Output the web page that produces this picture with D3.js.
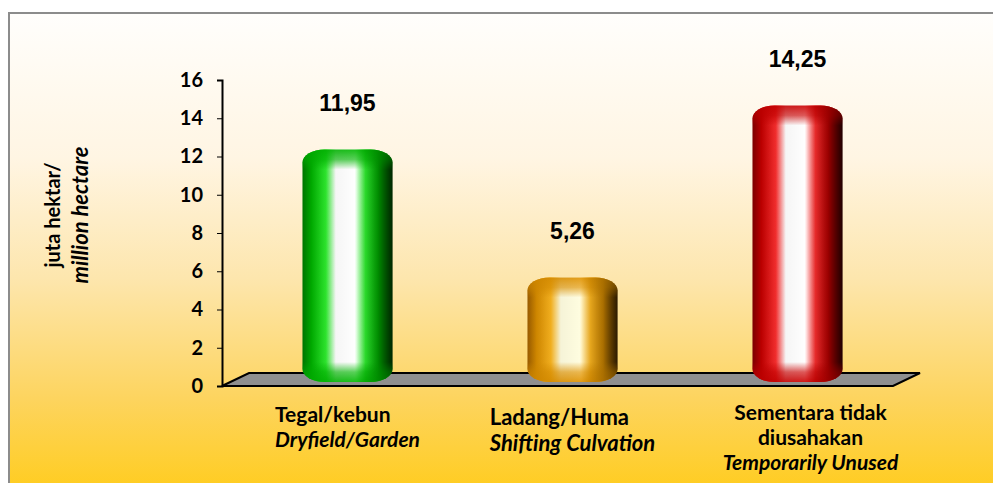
<!DOCTYPE html>
<html lang="id">
  <head>
    <meta charset="UTF-8" />
    <title>Lahan kering</title>
    <style>
      body {
        margin: 0;
        background: #ffffff;
      }
      svg {
        display: block;
      }
      .tick text {
        font-family: Lato, "DejaVu Sans", sans-serif;
        font-weight: bold;
        font-size: 20px;
        fill: #000;
      }
    </style>
  </head>
  <body>
    <script src="https://cdn.jsdelivr.net/npm/d3@7"></script>
    <svg id="chart" width="993" height="483"></svg>
    <script>
      // data
      var categories = ["Tegal/kebun", "Ladang/Huma", "Sementara tidak diusahakan"];
      var categoryLines = [
        ["Tegal/kebun", "Dryfield/Garden"],
        ["Ladang/Huma", "Shifting Culvation"],
        ["Sementara tidak", "diusahakan", "Temporarily Unused"]
      ];
      var values = [11.95, 5.26, 14.25];
      var yTicks = [0, 2, 4, 6, 8, 10, 12, 14, 16];
      var yTitle = ["juta hektar/", "million hectare"];

      // bar colours: dark left, mid, bright, highlight, dark right
      var palette = [
        ["#008000", "#00b800", "#30f030", "#ffffff", "#004000"],
        ["#a86400", "#e09200", "#ffb820", "#fffde0", "#4a2c00"],
        ["#8a0000", "#cc0000", "#ff3030", "#ffffff", "#380000"]
      ];
      // label block settings (alignment inside block, x shift, first baseline)
      var labelAlign = ["start", "start", "middle"];
      var labelShift = [0, 0, 13];
      var labelTop = [422, 425, 420];
      var labelSize = [21, 22, 21];

      var svg = d3.select("#chart"),
        width = +svg.attr("width"),
        height = +svg.attr("height");

      var defs = svg.append("defs");

      // background gradient
      var bg = defs.append("linearGradient")
        .attr("id", "bg")
        .attr("x1", 0).attr("y1", 0).attr("x2", 0).attr("y2", 1);
      [[0, "#fffefc"], [0.3, "#fff5e3"], [0.55, "#fde6ad"], [0.8, "#fdd45e"], [1, "#ffcc1c"]]
        .forEach(function (s) {
          bg.append("stop").attr("offset", s[0]).attr("stop-color", s[1]);
        });

      // frame
      svg.append("rect")
        .attr("x", 9).attr("y", 13)
        .attr("width", width).attr("height", height)
        .attr("fill", "url(#bg)")
        .attr("stroke", "#8c8c8c")
        .attr("stroke-width", 2);

      // scales
      var y = d3.scaleLinear().domain([0, 16]).range([386, 80]);
      var x = d3.scaleBand()
        .domain(categories)
        .range([235, 910])
        .paddingInner(0.6)
        .paddingOuter(0.3);

      var depthX = 27, depthY = 13;

      // floor
      var x0 = 222, x1 = 893;
      svg.append("path")
        .attr("d", "M" + x0 + "," + y(0) +
          "L" + (x0 + depthX) + "," + (y(0) - depthY) +
          "L" + (x1 + depthX) + "," + (y(0) - depthY) +
          "L" + x1 + "," + y(0) + "Z")
        .attr("fill", "#8f8f8f")
        .attr("stroke", "#000")
        .attr("stroke-width", 2)
        .attr("stroke-linejoin", "miter");

      // axis
      var axis = svg.append("g")
        .attr("transform", "translate(" + x0 + ",0)")
        .call(d3.axisLeft(y).tickValues(yTicks).tickSize(5).tickPadding(14));
      axis.select(".domain").attr("stroke", "#000").attr("stroke-width", 2);
      axis.selectAll(".tick line").attr("stroke", "#000").attr("stroke-width", 1);

      // y title
      var yt = svg.append("text")
        .attr("transform", "translate(53,215) rotate(-90)")
        .attr("text-anchor", "middle")
        .style("font-family", "Lato, sans-serif")
        .style("font-weight", "bold")
        .style("font-size", "20px");
      yt.append("tspan").attr("x", 0).attr("dy", "0.35em").text(yTitle[0]);
      yt.append("tspan").attr("x", 0).attr("dy", "1.25em")
        .style("font-style", "italic").style("font-size", "22px").text(yTitle[1]);

      // cylinder gradients (across)
      palette.forEach(function (c, i) {
        var g = defs.append("linearGradient")
          .attr("id", "cyl" + i)
          .attr("x1", 0).attr("y1", 0).attr("x2", 1).attr("y2", 0);
        [[0, c[0]], [0.1, c[1]], [0.26, c[2]], [0.37, c[3]], [0.58, c[3]],
         [0.7, c[2]], [0.84, c[1]], [1, c[4]]]
          .forEach(function (s) {
            g.append("stop").attr("offset", s[0]).attr("stop-color", s[1]);
          });
      });

      var barTop = function (d) { return y(d) - 8; };
      var barBottom = y(0) - 4;

      // cap shading (along), one per bar so the caps keep a fixed size
      values.forEach(function (d, i) {
        var h = barBottom - barTop(d);
        var cap = 20 / h;
        var g = defs.append("linearGradient")
          .attr("id", "shade" + i)
          .attr("x1", 0).attr("y1", 0).attr("x2", 0).attr("y2", 1);
        [[0, 0.9], [cap * 0.5, 0.65], [cap, 0], [1 - cap, 0], [1 - cap * 0.5, 0.65], [1, 0.9]]
          .forEach(function (s) {
            g.append("stop").attr("offset", s[0]).attr("stop-color", palette[i][1]).attr("stop-opacity", s[1]);
          });
      });
      var edge = defs.append("linearGradient")
        .attr("id", "edge")
        .attr("x1", 0).attr("y1", 0).attr("x2", 1).attr("y2", 0);
      [[0, 0.1], [0.6, 0], [1, 0.4]].forEach(function (s) {
        edge.append("stop").attr("offset", s[0]).attr("stop-color", "#000").attr("stop-opacity", s[1]);
      });

      var fmt = d3.formatLocale({ decimal: ",", thousands: ".", grouping: [3], currency: ["", ""] }).format(".2f");

      var bars = svg.append("g").selectAll("g")
        .data(values)
        .enter()
        .append("g");

      ["cyl", "shade", "edge"].forEach(function (id) {
        bars.append("rect")
          .attr("x", function (d, i) { return x(categories[i]); })
          .attr("y", barTop)
          .attr("width", x.bandwidth())
          .attr("height", function (d) { return barBottom - barTop(d); })
          .attr("rx", 22).attr("ry", 13)
          .attr("fill", function (d, i) { return "url(#" + id + (id === "edge" ? "" : i) + ")"; });
      });

      // value labels
      svg.append("g").selectAll("text")
        .data(values)
        .enter()
        .append("text")
        .attr("x", function (d, i) { return x(categories[i]) + x.bandwidth() / 2; })
        .attr("y", function (d) { return y(d) - 46; })
        .attr("text-anchor", "middle")
        .style("font-family", "'Liberation Sans', Arial, sans-serif")
        .style("font-weight", "bold")
        .style("font-size", "23px")
        .text(function (d) { return fmt(d); });

      // category labels
      var cat = svg.append("g").selectAll("text")
        .data(categoryLines)
        .enter()
        .append("text")
        .attr("text-anchor", function (d, i) { return labelAlign[i]; })
        .style("font-family", "Lato, sans-serif")
        .style("font-weight", "bold")
        .style("font-size", function (d, i) { return labelSize[i] + "px"; });
      cat.each(function (lines, i) {
        var t = d3.select(this);
        lines.forEach(function (l, j) {
          t.append("tspan")
            .attr("x", 0)
            .attr("dy", j === 0 ? 0 : "1.2em")
            .style("font-style", j === lines.length - 1 ? "italic" : "normal")
            .text(l);
        });
        var cx = x(categories[i]) + x.bandwidth() / 2 + labelShift[i];
        if (labelAlign[i] === "start") {
          var w = d3.max(t.selectAll("tspan").nodes(), function (n) { return n.getComputedTextLength(); });
          cx -= w / 2;
        }
        t.attr("transform", "translate(" + cx + "," + labelTop[i] + ")");
      });
    </script>
  </body>
</html>
